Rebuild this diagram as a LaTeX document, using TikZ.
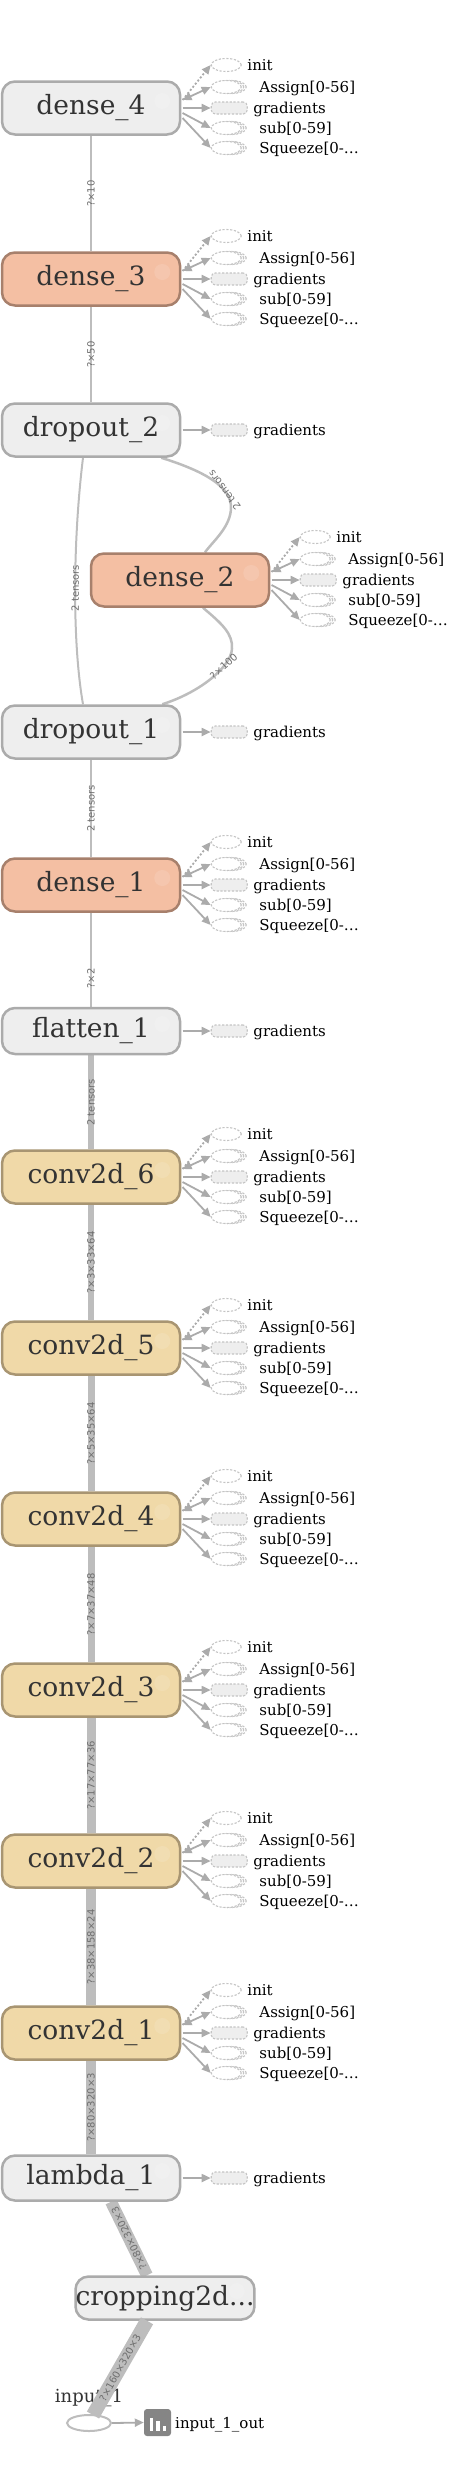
\documentclass[tikz,border=0pt]{standalone}
\usepackage{fontspec}
\setmainfont{DejaVu Serif}
\newfontfamily\elfont{DejaVu Sans}
\usetikzlibrary{arrows.meta,calc,shapes.geometric,backgrounds}
\definecolor{edgegray}{HTML}{BDBDBD}
\definecolor{arrgray}{HTML}{ABABAB}
\definecolor{dashgray}{HTML}{C4C4C4}
\definecolor{labgray}{HTML}{6E6E6E}
\definecolor{grayfill}{HTML}{EEEEEE}
\definecolor{grayborder}{HTML}{ABABAB}
\definecolor{densefill}{HTML}{F4BFA3}
\definecolor{denseborder}{HTML}{A7806C}
\definecolor{convfill}{HTML}{F0D9A8}
\definecolor{convborder}{HTML}{A89572}
\definecolor{nodetext}{HTML}{333333}
\definecolor{iconfill}{HTML}{858585}
\tikzset{
 mainnode/.style={draw=grayborder, fill=grayfill, rounded corners=13pt, line width=2.5pt,
   minimum width=178pt, minimum height=53pt, inner sep=0pt,
   font=\fontsize{26.5}{26.5}\selectfont, text=nodetext},
 densenode/.style={mainnode, fill=densefill, draw=denseborder},
 convnode/.style={mainnode, fill=convfill, draw=convborder},
 medge/.style={draw=edgegray},
 elabel/.style={font=\elfont\fontsize{10}{10}\selectfont, text=labgray, inner sep=0pt},
 dashell/.style={ellipse, draw=dashgray, line width=1.1pt, dash pattern=on 2.2pt off 1.6pt,
   fill=white, minimum width=30pt, minimum height=13pt, inner sep=0pt},
 gradbox/.style={rectangle, rounded corners=4pt, draw=dashgray, line width=1.1pt,
   dash pattern=on 2.2pt off 1.6pt, fill=grayfill, minimum width=36pt, minimum height=12pt, inner sep=0pt},
 sidelbl/.style={anchor=base west, inner sep=0pt, font=\fontsize{15}{15}\selectfont, text=black},
 sidearr/.style={draw=arrgray, line width=1.8pt, -{Triangle[length=9pt,width=8pt]}},
 dotarr/.style={sidearr, dash pattern=on 2pt off 2pt},
 biarr/.style={draw=arrgray, line width=1.8pt, {Triangle[length=9pt,width=8pt]}-{Triangle[length=9pt,width=8pt]}},
 expicon/.style={circle, fill=white, fill opacity=0.12, minimum size=16pt, inner sep=0pt},
}
\newcommand{\serell}[3]{% name, x offset, y offset from (#1-e)
  \node[dashell] (#2b2) at ($(#1-e)+(#3)+(5,0)$) {};
  \node[dashell] (#2b1) at ($(#1-e)+(#3)+(2.5,0)$) {};
  \node[dashell] (#2) at ($(#1-e)+(#3)$) {};
}
\newcommand{\anngrad}[1]{%
  \coordinate (#1-e) at (#1.east);
  \coordinate (#1-o3) at ($(#1-e)+(1.3,0)$);
  \node[gradbox] (#1-grd) at ($(#1-e)+(48,0)$) {};
  \node[sidelbl] (#1-grdl) at ($(#1-e)+(72,5)$) {gradients};
  \draw[sidearr] (#1-o3) -- (#1-grd.west);
}
\newcommand{\annfull}[1]{%
  \anngrad{#1}
  \coordinate (#1-o1) at ($(#1-e)+(1.3,-8)$);
  \coordinate (#1-o4) at ($(#1-e)+(1.3,5)$);
  \coordinate (#1-o5) at ($(#1-e)+(1.3,10)$);
  \node[dashell] (#1-ini) at ($(#1-e)+(45,-43)$) {};
  \node[sidelbl] (#1-inil) at ($(#1-e)+(66,-38)$) {init};
  \serell{#1}{#1-asg}{45,-21}
  \node[sidelbl] (#1-asgl) at ($(#1-e)+(78,-16)$) {Assign[0-56]};
  \serell{#1}{#1-sub}{45,20}
  \node[sidelbl] (#1-subl) at ($(#1-e)+(78,25)$) {sub[0-59]};
  \serell{#1}{#1-sqz}{45,40}
  \node[sidelbl] (#1-sqzl) at ($(#1-e)+(78,45)$) {Squeeze[0-…};
  \draw[dotarr] (#1-o1) -- (#1-ini.west);
  \draw[biarr] (#1-o1) -- (#1-asg.west);
  \draw[sidearr] (#1-o4) -- (#1-sub.west);
  \draw[sidearr] (#1-o5) -- (#1-sqz.west);
}
\newcommand{\expic}[1]{\node[expicon] (#1-x) at ($(#1.east)+(-19,-7)$) {};}
\begin{document}
\begin{tikzpicture}[x=1pt,y=-1pt]
\useasboundingbox (0,0) rectangle (457,2466);
% main nodes
\node[mainnode] (dense_4) at (91,108) {dense\_4};
\node[densenode] (dense_3) at (91,279) {dense\_3};
\node[mainnode] (dropout_2) at (91,430) {dropout\_2};
\node[densenode] (dense_2) at (180,580) {dense\_2};
\node[mainnode] (dropout_1) at (91,732) {dropout\_1};
\node[densenode] (dense_1) at (91,885) {dense\_1};
\node[mainnode, minimum height=46pt] (flatten_1) at (91,1031) {flatten\_1};
\node[convnode] (conv2d_6) at (91,1177) {conv2d\_6};
\node[convnode] (conv2d_5) at (91,1348) {conv2d\_5};
\node[convnode] (conv2d_4) at (91,1519) {conv2d\_4};
\node[convnode] (conv2d_3) at (91,1690) {conv2d\_3};
\node[convnode] (conv2d_2) at (91,1861) {conv2d\_2};
\node[convnode] (conv2d_1) at (91,2033) {conv2d\_1};
\node[mainnode, minimum height=45pt] (lambda_1) at (91,2178) {lambda\_1};
\node[mainnode, minimum height=43pt] (cropping) at (165,2298) {cropping2d...};
\foreach \n in {dense_4,dense_3,dropout_2,dense_2,dropout_1,dense_1,flatten_1,conv2d_6,conv2d_5,conv2d_4,conv2d_3,conv2d_2,conv2d_1,lambda_1,cropping} {\expic{\n}}
% input
\node[ellipse, draw=edgegray, line width=2pt, fill=white, minimum width=44pt, minimum height=16pt, inner sep=0pt] (input_1) at (89,2423) {};
\node[font=\fontsize{18}{18}\selectfont, text=nodetext, inner sep=0pt] (input_1l) at (89,2398) {input\_1};
\node[rectangle, rounded corners=3pt, fill=iconfill, minimum size=27pt, inner sep=0pt] (outicon) at (157.5,2422.5) {};
\fill[white] ($(outicon.center)+(-8,8)$) rectangle ($(outicon.center)+(-4.5,-5)$);
\fill[white] ($(outicon.center)+(-1.5,8)$) rectangle ($(outicon.center)+(2,-2)$);
\fill[white] ($(outicon.center)+(5,8)$) rectangle ($(outicon.center)+(8.5,3)$);
\node[sidelbl, anchor=base west] (outl) at (175,2428) {input\_1\_out};
\draw[sidearr] (input_1.east) -- (outicon.west);
% side annotations
\annfull{dense_4}
\annfull{dense_3}
\anngrad{dropout_2}
\annfull{dense_2}
\anngrad{dropout_1}
\annfull{dense_1}
\anngrad{flatten_1}
\annfull{conv2d_6}
\annfull{conv2d_5}
\annfull{conv2d_4}
\annfull{conv2d_3}
\annfull{conv2d_2}
\annfull{conv2d_1}
\anngrad{lambda_1}
% main edges
\begin{scope}[on background layer]
\draw[medge, line width=2pt] (dense_4) -- node[elabel, rotate=90] {?×10} (dense_3);
\draw[medge, line width=2pt] (dense_3) -- node[elabel, rotate=90] {?×50} (dropout_2);
\coordinate (c1a) at ($(dropout_2.south)+(-8,0)$);
\coordinate (c1b) at ($(dropout_1.north)+(-8,0)$);
\draw[medge, line width=2pt] (c1a) .. controls ($(c1a)+(-10,82)$) and ($(c1b)+(-11,-63)$) .. (c1b)
  node[pos=0.5, elabel, rotate=90] {2 tensors};
\coordinate (c2a) at ($(dropout_2.south east)+(-20,0)$);
\coordinate (c2b) at ($(dense_2.north)+(25,0)$);
\coordinate (c2m) at ($(c2b)+(26,-45)$);
\draw[medge, line width=2.5pt] (c2a) .. controls ($(c2a)+(45,14)$) and ($(c2m)+(0,-20)$) .. (c2m)
  node[pos=0.7, elabel, rotate=127] {2 tensors}
  .. controls ($(c2m)+(0,19)$) and ($(c2b)+(9,-12)$) .. (c2b);
\coordinate (c3a) at ($(dense_2.south)+(23,0)$);
\coordinate (c3b) at ($(dropout_1.north east)+(-19,0)$);
\coordinate (c3m) at ($(c3a)+(29,41)$);
\draw[medge, line width=2.5pt] (c3a) .. controls ($(c3a)+(19,16)$) and ($(c3m)+(1,-15)$) .. (c3m)
  .. controls ($(c3m)+(-1,18)$) and ($(c3b)+(38,-12)$) .. (c3b)
  node[pos=0.3, elabel, rotate=42] {?×100};
\draw[medge, line width=2.5pt] (dropout_1) -- node[elabel, rotate=90] {2 tensors} (dense_1);
\draw[medge, line width=2pt] (dense_1) -- node[elabel, rotate=90, pos=0.7] {?×2} (flatten_1);
\draw[medge, line width=6pt] (flatten_1) -- node[elabel, rotate=90] {2 tensors} (conv2d_6);
\draw[medge, line width=6pt] (conv2d_6) -- node[elabel, rotate=90] {?×3×33×64} (conv2d_5);
\draw[medge, line width=7pt] (conv2d_5) -- node[elabel, rotate=90] {?×5×35×64} (conv2d_4);
\draw[medge, line width=7pt] (conv2d_4) -- node[elabel, rotate=90] {?×7×37×48} (conv2d_3);
\draw[medge, line width=9pt] (conv2d_3) -- node[elabel, rotate=90] {?×17×77×36} (conv2d_2);
\draw[medge, line width=10pt] (conv2d_2) -- node[elabel, rotate=90] {?×38×158×24} (conv2d_1);
\draw[medge, line width=10pt] (conv2d_1) -- node[elabel, rotate=90] {?×80×320×3} (lambda_1);
\coordinate (c4a) at ($(lambda_1.south)+(20,0)$);
\coordinate (c4b) at ($(cropping.north)+(-18,0)$);
\draw[medge, line width=12pt] (c4a) -- node[elabel, rotate=116] {?×80×320×3} (c4b);
\coordinate (c5a) at ($(cropping.south)+(-18,0)$);
\coordinate (c5b) at ($(input_1.north)+(4,1)$);
\end{scope}
\draw[medge, line width=14pt] (c5a) -- node[elabel, rotate=61] {?×160×320×3} (c5b);
\end{tikzpicture}
\end{document}
